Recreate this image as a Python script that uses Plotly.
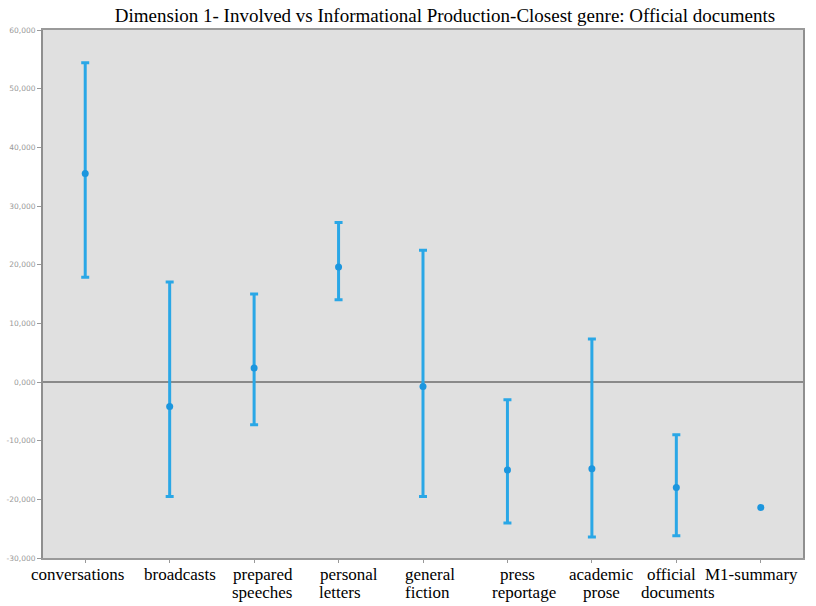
import plotly.graph_objects as go

# Genre labels along the x axis (first and second line of each label)
genre_line1 = ["conversations", "broadcasts", "prepared", "personal", "general",
               "press", "academic", "official", "M1-summary"]
genre_line2 = ["", "", "speeches", "letters", "fiction", "reportage", "prose",
               "documents", ""]

# Mean Dimension 1 score per genre, with upper / lower interval bounds
means = [35.53, -4.16, 2.39, 19.61, -0.75, -15.01, -14.79, -17.98, -21.39]
upper = [54.41, 17.06, 15.01, 27.17, 22.45, -3.02, 7.33, -8.99, None]
lower = [17.84, -19.51, -7.28, 14.04, -19.51, -24.05, -26.44, -26.22, None]

# y axis tick values and their labels
y_ticks = [60, 50, 40, 30, 20, 10, 0, -10, -20, -30]
y_labels = ["60,000", "50,000", "40,000", "30,000", "20,000", "10,000", "0,000",
            "-10,000", "-20,000", "-30,000"]

# Horizontal nudges (px) of each category label relative to its tick
nudge_line1 = [-8, 10, 9, 10, 7, 10, 10, -5, -9]
nudge_line2 = [0, 0, 8, 1, 4, 17, 10, 2, 0]

BLUE = "#2aa7e6"
DOT = "#1c96de"
SERIF = "Liberation Serif, Times New Roman, serif"
LABEL_FONT = dict(family=SERIF, size=17, color="black")

# Genres that have an interval get error bars; the summary is a single point
idx = [i for i in range(len(means)) if upper[i] is not None]
plus = [upper[i] - means[i] for i in idx]
minus = [means[i] - lower[i] for i in idx]

fig = go.Figure()
fig.add_trace(go.Scatter(
    x=idx, y=[means[i] for i in idx], mode="markers",
    marker=dict(size=7, color=DOT),
    error_y=dict(type="data", symmetric=False, array=plus, arrayminus=minus,
                 color=BLUE, thickness=3, width=4),
    showlegend=False,
))
solo = [i for i in range(len(means)) if upper[i] is None]
fig.add_trace(go.Scatter(
    x=solo, y=[means[i] for i in solo], mode="markers",
    marker=dict(size=7, color=DOT), showlegend=False,
))

# Reference line at zero
fig.add_shape(type="line", xref="paper", x0=0, x1=1, yref="y", y0=0, y1=0,
              line=dict(color="#8a8a8a", width=2), layer="below")

# Two-line category labels under the ticks
for i, txt in enumerate(genre_line1):
    fig.add_annotation(x=i, xref="x", y=0, yref="paper", yanchor="middle",
                       yshift=-16, xshift=nudge_line1[i], text=txt,
                       showarrow=False, font=LABEL_FONT)
for i, txt in enumerate(genre_line2):
    if txt:
        fig.add_annotation(x=i, xref="x", y=0, yref="paper", yanchor="middle",
                           yshift=-34, xshift=nudge_line2[i], text=txt,
                           showarrow=False, font=LABEL_FONT)

fig.update_layout(
    width=816, height=606,
    margin=dict(l=43, r=13, t=30, b=48),
    paper_bgcolor="white",
    plot_bgcolor="#e0e0e0",
    title=dict(
        text="Dimension 1- Involved vs Informational Production-Closest genre: Official documents",
        xref="container", x=445 / 816, xanchor="center", y=0.975, yanchor="middle",
        font=dict(family=SERIF, size=19, color="black"),
    ),
    xaxis=dict(
        range=[-0.5, 8.5], tickmode="array", tickvals=list(range(len(genre_line1))),
        showticklabels=False, showgrid=False, zeroline=False,
        ticks="outside", ticklen=3, tickcolor="#999", tickwidth=1,
        showline=True, linecolor="#9a9a9a", linewidth=2, mirror=True,
        automargin=False,
    ),
    yaxis=dict(
        range=[-30, 60], tickmode="array", tickvals=y_ticks, ticktext=y_labels,
        showgrid=False, zeroline=False,
        ticks="outside", ticklen=4, tickcolor="#999", tickwidth=1,
        showline=True, linecolor="#8f8f8f", linewidth=2, mirror=True,
        automargin=False,
        tickfont=dict(family="DejaVu Sans, sans-serif", size=7.5, color="#999999"),
    ),
)

fig.write_html("out.html")
